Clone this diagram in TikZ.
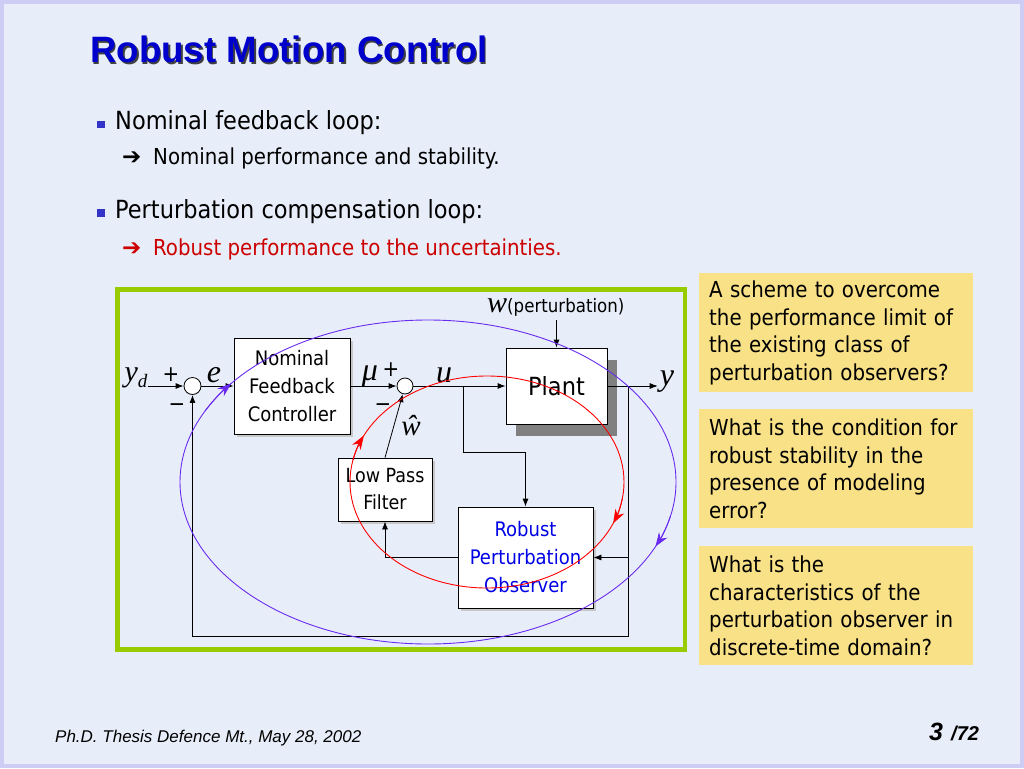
\documentclass[tikz,border=0pt]{standalone}
\usepackage{fontspec}
\setmainfont{DejaVu Sans Condensed}
\newfontfamily\headfont{Liberation Sans}
\newfontfamily\sigfont{Liberation Serif}
\newfontfamily\arrowfont{DejaVu Sans}
\usetikzlibrary{arrows.meta,shadows}
\definecolor{slidebg}{RGB}{232,238,249}
\definecolor{slideedge}{RGB}{204,204,245}
\definecolor{headblue}{RGB}{0,0,204}
\definecolor{framegreen}{RGB}{153,204,0}
\definecolor{notefill}{RGB}{248,225,135}
\definecolor{loopviolet}{RGB}{106,43,240}
\definecolor{bulletblue}{RGB}{51,51,204}
\definecolor{robustred}{RGB}{204,0,0}
\definecolor{obsblue}{RGB}{0,0,230}
\tikzset{
  block/.style={draw=black, fill=white, line width=0.8pt, align=center, inner sep=0pt, font=\fontsize{20}{28}\selectfont},
  blockshadow/.style={drop shadow={shadow xshift=3pt, shadow yshift=-3pt, fill=black!22, opacity=1}},
  sumnode/.style={circle, draw=black, fill=white, line width=0.8pt, minimum size=17pt, inner sep=0pt},
  wire/.style={line width=0.8pt, draw=black},
  sig/.style={wire, -{Latex[length=8pt,width=6pt]}},
  siglabel/.style={font=\sigfont\itshape\fontsize{32}{32}\selectfont, anchor=base, inner sep=0pt},
  signlabel/.style={font=\fontsize{22}{22}\selectfont, inner sep=0pt},
  bodytext/.style={anchor=base west, inner sep=0pt},
  notebox/.style={fill=notefill, anchor=north west, minimum width=274pt, minimum height=119pt, text width=254pt, inner xsep=10pt, inner ysep=0pt, align=left, font=\fontsize{22}{27.5}\selectfont},
  violetloop/.style={draw=loopviolet, line width=0.9pt},
  redloop/.style={draw=red, line width=0.9pt},
  looptip/.style={-{Stealth[length=14pt,width=10pt]}},
}

\begin{document}
\begin{tikzpicture}[x=1pt, y=-1pt]
\useasboundingbox (0,0) rectangle (1024,768);
\fill[slideedge] (0,0) rectangle (1024,768);
\fill[slidebg] (4,4) rectangle (1020,764);
\node[bodytext, text=black!75, font=\headfont\bfseries\fontsize{36.7}{36.7}\selectfont] (titleshade) at (91.500,64.500) {Robust Motion Control};
\node[bodytext, text=headblue, font=\headfont\bfseries\fontsize{36.7}{36.7}\selectfont] (title) at (90.000,63.000) {Robust Motion Control};
\fill[bulletblue] (97.000,120.500) rectangle (104.500,128.000);
\node[bodytext, font=\fontsize{25}{25}\selectfont] (bulletA) at (115.000,129.500) {Nominal feedback loop:};
\node[bodytext, font=\arrowfont\bfseries\fontsize{23}{23}\selectfont] (arrowA) at (122.000,164.000) {➔};
\node[bodytext, font=\fontsize{22}{22}\selectfont] (subA) at (153.000,164.000) {Nominal performance and stability.};
\fill[bulletblue] (97.000,209.000) rectangle (104.500,216.500);
\node[bodytext, font=\fontsize{25}{25}\selectfont] (bulletB) at (115.000,218.000) {Perturbation compensation loop:};
\node[bodytext, text=robustred, font=\arrowfont\bfseries\fontsize{23}{23}\selectfont] (arrowB) at (122.000,255.000) {➔};
\node[bodytext, text=robustred, font=\fontsize{22}{22}\selectfont] (subB) at (153.000,255.000) {Robust performance to the uncertainties.};
\draw[framegreen, line width=4.5pt] (117.500,289.500) rectangle (685.000,649.500);
\node[block, blockshadow, minimum width=116pt, minimum height=96pt] (ctrl) at (292.000,386.000) {Nominal\\Feedback\\Controller};
\node[block, drop shadow={shadow xshift=10pt, shadow yshift=-12pt, fill=black!50, opacity=1}, minimum width=101pt, minimum height=76pt, font=\fontsize{25}{25}\selectfont] (plant) at (556.500,386.000) {Plant};
\node[block, blockshadow, minimum width=94pt, minimum height=63pt, font=\fontsize{19.5}{27}\selectfont] (lpf) at (385.000,489.500) {Low Pass\\Filter};
\node[block, blockshadow, minimum width=135pt, minimum height=101pt, text=obsblue] (rpo) at (525.500,557.500) {Robust\\Perturbation\\Observer};
\node[sumnode] (sum1) at (192.500,386.000) {};
\node[sumnode, minimum size=16pt] (sum2) at (405.000,386.000) {};
\node[siglabel, font=\sigfont\itshape\fontsize{30}{30}\selectfont] (ydlab) at (136.000,381.000) {y\raisebox{-6pt}{\fontsize{19}{19}\selectfont d}};
\node[siglabel] (elab) at (214.000,382.000) {e};
\node[siglabel] (mulab) at (370.000,380.000) {μ};
\node[siglabel] (ulab) at (444.000,382.000) {u};
\node[siglabel] (yout) at (667.000,385.000) {y};
\node[siglabel, font=\sigfont\itshape\fontsize{29}{29}\selectfont] (whatlab) at (411.000,435.000) {ŵ};
\node[bodytext] (wlab) at (487.000,312.000) {{\sigfont\itshape\fontsize{30}{30}\selectfont w}{\fontsize{18.5}{18.5}\selectfont(perturbation)}};
\node[signlabel] (plusA) at (171.000,375.000) {+};
\node[signlabel] (minusA) at (177.000,408.000) {−};
\node[signlabel] (plusB) at (391.000,370.000) {+};
\node[signlabel] (minusB) at (383.000,408.000) {−};
\coordinate (utap) at (463.000,386.000);
\coordinate (ubend) at (463.000,452.000);
\coordinate (ytap) at (628.000,386.000);
\coordinate (fbcorner) at (628.000,636.000);
\draw[sig] (ydlab.east |- sum1) -- (sum1.west);
\draw[sig] (sum1) -- (ctrl);
\draw[sig] (ctrl) -- (sum2);
\draw[sig] (sum2) -- (plant);
\draw[sig] (plant) -- ([xshift=-2pt]yout.west |- plant);
\draw[sig] (plant.north |- wlab.south) ++(0,4) -- (plant.north);
\draw[sig] (utap) -- (ubend) -| (rpo.north);
\draw[sig] (ytap) -- (fbcorner) -| (sum1.south);
\draw[sig] (ytap |- rpo.east) -- (rpo.east);
\draw[sig] (rpo.west) -| (lpf.south);
\draw[sig] (lpf.north) -- (sum2);
\draw[violetloop] (428.000,482.000) ellipse [x radius=248, y radius=162];
\draw[violetloop, looptip] (428.000,482.000) ++(206:248 and 162) arc[start angle=206, end angle=217.5, x radius=248, y radius=162];
\draw[violetloop, looptip] (428.000,482.000) ++(12:248 and 162) arc[start angle=12, end angle=23.5, x radius=248, y radius=162];
\draw[redloop] (487.000,482.000) ellipse [x radius=137, y radius=106];
\draw[redloop, looptip] (487.000,482.000) ++(192:137 and 106) arc[start angle=192, end angle=206, x radius=137, y radius=106];
\draw[redloop, looptip] (487.000,482.000) ++(9:137 and 106) arc[start angle=9, end angle=23, x radius=137, y radius=106];
\node[notebox] (noteA) at (699.000,273.000) {A scheme to overcome\\the performance limit of\\the existing class of\\perturbation observers?};
\node[notebox] (noteB) at (699.000,409.000) {What is the condition for\\robust stability in the\\presence of modeling\\error?};
\node[notebox] (noteC) at (699.000,546.000) {What is the\\characteristics of the\\perturbation observer in\\discrete-time domain?};
\node[bodytext, font=\headfont\itshape\fontsize{17}{17}\selectfont] (footer) at (55.000,742.000) {Ph.D. Thesis Defence Mt., May 28, 2002};
\node[bodytext, font=\headfont\bfseries\itshape\fontsize{25}{25}\selectfont] (pageno) at (929.000,740.000) {3};
\node[bodytext, font=\headfont\bfseries\itshape\fontsize{20}{20}\selectfont] (pagetotal) at (951.000,740.000) {/72};
\end{tikzpicture}
\end{document}
